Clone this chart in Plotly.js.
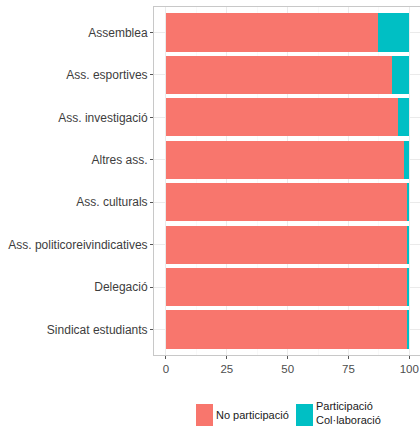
<!DOCTYPE html>
<html><head><meta charset="utf-8">
<script src="https://cdn.plot.ly/plotly-3.0.1.min.js"></script>
<style>body{margin:0;overflow:hidden}#c{width:420px;height:427px}</style>
</head><body><div id="c"></div>
<script>
const categories = ["Assemblea","Ass. esportives","Ass. investigació","Altres ass.","Ass. culturals","Ass. politicoreivindicatives","Delegació","Sindicat estudiants"];
const noParticipacio = [87.0, 92.9, 95.2, 97.7, 99.0, 99.1, 99.2, 99.1];
const participacio = categories.map((c,i)=>+(100-noParticipacio[i]).toFixed(1));
const seriesNames = ["No participació", "Participació<br>Col·laboració"];
const seriesColors = ["#F8766D", "#00BFC4"];
const xTicks = [0,25,50,75,100];

const traces = [
  {type:'bar', orientation:'h', y:categories, x:noParticipacio, name:seriesNames[0],
   marker:{color:seriesColors[0], line:{width:0}}, width:0.9},
  {type:'bar', orientation:'h', y:categories, x:participacio, name:seriesNames[1],
   marker:{color:seriesColors[1], line:{width:0}}, width:0.9}
];

// custom ggplot-like legend (paper coordinates)
const L = 154, R = 420, T = 7, B = 355;
const px = v => (v - L) / (R - L);
const py = v => (B - v) / (B - T);
const keyX = [196, 296];
const shapes = [], annotations = [];
keyX.forEach((kx, i) => {
  shapes.push({type:'rect', xref:'paper', yref:'paper', x0:px(kx), x1:px(kx+17),
    y0:py(404), y1:py(426), fillcolor:seriesColors[i], line:{width:0}});
  annotations.push({xref:'paper', yref:'paper', x:px(kx+18), y:py(i ? 413 : 415), xanchor:'left',
    yanchor:'middle', align:'left', showarrow:false, text:seriesNames[i],
    font:{size:11, color:'#1a1a1a'}});
});

const layout = {
  width:420, height:427, barmode:'stack',
  margin:{l:L, r:420-R, t:T, b:427-B},
  paper_bgcolor:'white', plot_bgcolor:'white',
  font:{family:'Liberation Sans, Arial, sans-serif', size:11, color:'#4d4d4d'},
  showlegend:false,
  shapes, annotations,
  xaxis:{range:[-4.93,104.4], tickvals:xTicks, ticktext:xTicks.map(String),
    showgrid:true, gridcolor:'#ebebeb', gridwidth:1, zeroline:false,
    minor:{dtick:12.5, tick0:0, showgrid:true, gridcolor:'#f4f4f4', gridwidth:0.5},
    ticks:'outside', ticklen:3, tickcolor:'#555', showline:true, mirror:true,
    linecolor:'#c8c8c8', linewidth:1, tickfont:{size:11.5,color:'#4d4d4d'}},
  yaxis:{type:'category', categoryorder:'array', categoryarray:categories,
    range:[7.6,-0.6], showgrid:true, gridcolor:'#ebebeb', gridwidth:1, zeroline:false,
    ticks:'outside', ticklen:3, tickcolor:'#555', showline:true, mirror:true,
    linecolor:'#c8c8c8', linewidth:1, tickfont:{size:12,color:'#3d3d3d'}}
};
Plotly.newPlot('c', traces, layout, {displayModeBar:false, staticPlot:true});
</script></body></html>
